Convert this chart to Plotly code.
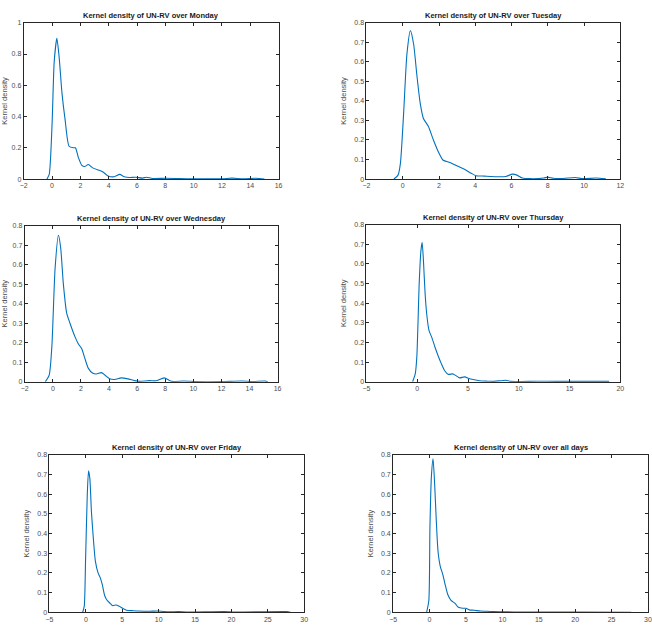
import plotly.graph_objects as go

W, H = 652, 636

mon_x = [-0.36, -0.2, 0.0, 0.15, 0.34, 0.5, 0.7, 0.92, 1.2, 1.5, 1.65, 1.85, 2.1, 2.3, 2.56, 2.9, 3.37, 3.6, 3.96, 4.4, 4.78, 5.1, 5.5, 5.9, 6.4, 6.65, 7.1, 8.05, 9.0, 10.0, 12.0, 12.7, 13.5, 14.4, 15.0]
mon_y = [0.0, 0.03, 0.35, 0.75, 0.90, 0.78, 0.55, 0.38, 0.21, 0.20, 0.20, 0.14, 0.088, 0.08, 0.093, 0.07, 0.055, 0.045, 0.02, 0.015, 0.03, 0.015, 0.01, 0.012, 0.006, 0.012, 0.004, 0.005, 0.003, 0.002, 0.002, 0.006, 0.002, 0.005, 0.0]

tue_x = [-0.49, -0.26, -0.13, 0.05, 0.23, 0.42, 0.6, 0.78, 0.96, 1.14, 1.41, 1.69, 1.96, 2.23, 2.6, 3.05, 3.4, 3.77, 4.05, 4.5, 5.2, 5.68, 6.05, 6.3, 6.6, 7.04, 7.77, 7.99, 8.3, 8.85, 9.5, 9.95, 10.67, 11.2]
tue_y = [0.0, 0.02, 0.08, 0.34, 0.64, 0.76, 0.69, 0.53, 0.39, 0.31, 0.27, 0.20, 0.14, 0.096, 0.085, 0.065, 0.05, 0.03, 0.017, 0.015, 0.012, 0.013, 0.025, 0.02, 0.005, 0.002, 0.005, 0.01, 0.004, 0.003, 0.008, 0.002, 0.005, 0.001]

wed_x = [-0.54, -0.26, -0.07, 0.16, 0.4, 0.56, 0.75, 0.99, 1.22, 1.58, 1.81, 2.05, 2.28, 2.52, 2.82, 3.1, 3.46, 3.7, 4.05, 4.4, 4.87, 5.34, 5.81, 6.16, 6.87, 7.34, 7.93, 8.28, 8.5, 9.34, 10.2, 12.0, 13.45, 14.2, 15.1, 15.3]
wed_y = [0.0, 0.034, 0.18, 0.58, 0.75, 0.685, 0.5, 0.35, 0.30, 0.23, 0.195, 0.17, 0.12, 0.07, 0.045, 0.04, 0.047, 0.035, 0.015, 0.012, 0.02, 0.015, 0.006, 0.002, 0.006, 0.005, 0.02, 0.008, 0.002, 0.004, 0.001, 0.001, 0.004, 0.001, 0.004, 0.0]

thu_x = [-0.46, -0.2, -0.04, 0.19, 0.35, 0.48, 0.61, 0.77, 0.93, 1.16, 1.42, 1.74, 2.07, 2.39, 2.72, 3.04, 3.53, 3.85, 4.18, 4.66, 5.15, 5.64, 6.12, 6.93, 7.58, 8.72, 9.2, 11.8, 13.7, 16.3, 17.6, 18.9]
thu_y = [0.0, 0.04, 0.13, 0.50, 0.66, 0.71, 0.615, 0.45, 0.345, 0.26, 0.227, 0.177, 0.13, 0.09, 0.055, 0.038, 0.04, 0.03, 0.02, 0.025, 0.015, 0.01, 0.005, 0.003, 0.002, 0.008, 0.002, 0.003, 0.002, 0.002, 0.002, 0.002]

fri_x = [-0.44, -0.22, -0.04, 0.19, 0.37, 0.55, 0.77, 1.0, 1.31, 1.68, 1.99, 2.26, 2.58, 2.89, 3.34, 3.7, 4.15, 4.6, 5.06, 5.6, 6.4, 7.3, 8.7, 10.0, 11.4, 12.7, 14.1, 19.0, 20.4, 27.6, 28.1]
fri_y = [0.0, 0.03, 0.26, 0.59, 0.72, 0.68, 0.51, 0.39, 0.26, 0.20, 0.175, 0.14, 0.085, 0.062, 0.045, 0.033, 0.037, 0.03, 0.02, 0.01, 0.008, 0.006, 0.005, 0.006, 0.002, 0.003, 0.001, 0.004, 0.001, 0.003, 0.0]

all_x = [-0.4, -0.1, 0.05, 0.25, 0.48, 0.7, 0.93, 1.16, 1.46, 1.83, 2.14, 2.5, 2.95, 3.5, 3.95, 4.54, 4.99, 5.44, 6.1, 7.0, 7.9, 8.8, 10.1, 12.8, 20.0, 27.7]
all_y = [0.0, 0.06, 0.43, 0.69, 0.78, 0.65, 0.46, 0.31, 0.235, 0.19, 0.14, 0.09, 0.06, 0.045, 0.025, 0.02, 0.02, 0.012, 0.01, 0.006, 0.005, 0.003, 0.002, 0.001, 0.001, 0.0]

titles = ["Kernel density of UN-RV over Monday", "Kernel density of UN-RV over Tuesday",
          "Kernel density of UN-RV over Wednesday", "Kernel density of UN-RV over Thursday",
          "Kernel density of UN-RV over Friday", "Kernel density of UN-RV over all days"]
series = [(mon_x, mon_y), (tue_x, tue_y), (wed_x, wed_y), (thu_x, thu_y), (fri_x, fri_y), (all_x, all_y)]
x_ranges = [[-2, 16], [-2, 12], [-2, 16], [-5, 20], [-5, 30], [-5, 30]]
x_dticks = [2, 2, 2, 5, 5, 5]
y_ranges = [[0, 1], [0, 0.8], [0, 0.8], [0, 0.8], [0, 0.8], [0, 0.8]]
y_dticks = [0.2, 0.1, 0.1, 0.1, 0.1, 0.1]
y_label = "Kernel density"

# pixel boxes (left, right, top, bottom)
boxes = [(20, 278, 19, 177), (367, 624, 19, 177), (21, 277, 224, 382),
         (367, 624, 223, 382), (46, 304, 456, 615), (394, 652, 456, 615)]

fig = go.Figure()
axcol = "#262626"
font_fam = "Liberation Sans, Arial, sans-serif"
annotations = []
for i, ((xs, ys), (l, r, t, b)) in enumerate(zip(series, boxes)):
    n = "" if i == 0 else str(i + 1)
    fig.add_trace(go.Scatter(x=xs, y=ys, mode="lines", xaxis="x" + n, yaxis="y" + n,
                             line=dict(color="#0072BD", width=1.1, shape="spline", smoothing=0.6),
                             showlegend=False, hoverinfo="skip"))
    common = dict(showgrid=False, zeroline=False, showline=True, linecolor=axcol, linewidth=1,
                  mirror="ticks", ticks="inside", ticklen=3, tickcolor=axcol,
                  tickfont=dict(size=7, color="#4d4d4d", family=font_fam))
    fig.layout["xaxis" + n] = dict(domain=[l / W, r / W], range=x_ranges[i], dtick=x_dticks[i],
                                    tick0=0, anchor="y" + n, **common)
    fig.layout["yaxis" + n] = dict(domain=[1 - b / H, 1 - t / H], range=y_ranges[i], dtick=y_dticks[i],
                                    tick0=0, anchor="x" + n,
                                    title=dict(text=y_label, standoff=6,
                                               font=dict(size=7.5, color="#4d4d4d", family=font_fam)),
                                    **common)
    annotations.append(dict(text="<b>" + titles[i] + "</b>", x=(l + r) / 2 / W, y=1 - t / H,
                            xref="paper", yref="paper", xanchor="center", yanchor="bottom",
                            yshift=1, showarrow=False,
                            font=dict(size=7.5, color="#1a1a1a", family=font_fam)))

fig.update_layout(width=W, height=H, margin=dict(l=0, r=0, t=0, b=0),
                  paper_bgcolor="white", plot_bgcolor="white", annotations=annotations)
fig.write_html("out.html")
